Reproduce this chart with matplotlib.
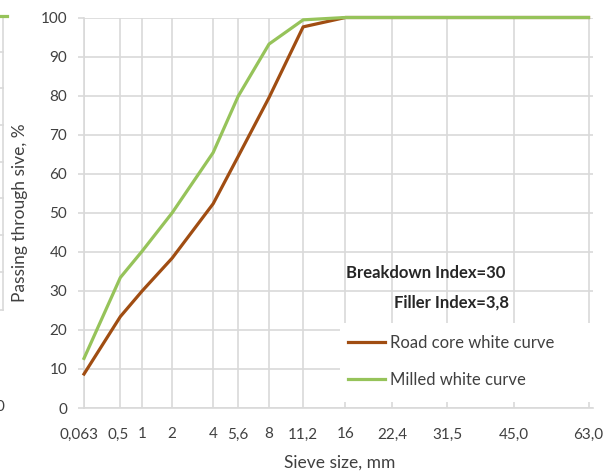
import matplotlib
matplotlib.use("Agg")
import matplotlib.pyplot as plt
from matplotlib.patches import Rectangle
from matplotlib.lines import Line2D
from matplotlib.transforms import ScaledTranslation
import numpy as np

# ---- data ----
sieve_sizes = [0.063, 0.5, 1, 2, 4, 5.6, 8, 11.2, 16, 22.4, 31.5, 45.0, 63.0]
tick_labels = ["0,063", "0,5", "1", "2", "4", "5,6", "8", "11,2", "16", "22,4", "31,5", "45,0", "63,0"]
road_core = [8.7, 23.4, 30.0, 38.4, 52.3, 64.4, 79.5, 97.6, 100, 100, 100, 100, 100]
milled = [12.7, 33.4, 40.2, 50.0, 65.4, 79.8, 93.2, 99.4, 100, 100, 100, 100, 100]
series_names = ["Road core white curve", "Milled white curve"]
y_ticks = [0, 10, 20, 30, 40, 50, 60, 70, 80, 90, 100]

POWER = 0.45
def tx(v):
    return np.asarray(v, dtype=float) ** POWER

FONT = "Lato"
plt.rcParams["font.family"] = [FONT, "DejaVu Sans"]
TXT = "#404040"
GRID = "#D9D9D9"
BROWN = "#A04D12"
GREEN = "#96C35A"

W, H = 603, 476
fig = plt.figure(figsize=(W / 100, H / 100), dpi=100)

ax_l, ax_r, ax_t, ax_b = 84, 593, 17.5, 408
ax = fig.add_axes([ax_l / W, 1 - ax_b / H, (ax_r - ax_l) / W, (ax_b - ax_t) / H])

u0 = tx(sieve_sizes[0])
u63 = tx(sieve_sizes[-1])
scale = (588.5 - ax_l) / (u63 - u0)
ax.set_xlim(u0, u63 + (ax_r - 588.5) / scale)
ax.set_ylim(0, 100)

ax.set_xticks(tx(sieve_sizes))
ax.set_xticklabels(tick_labels)
ax.set_yticks(y_ticks)
ax.grid(True, color=GRID, linewidth=1.2, zorder=0)
ax.set_axisbelow(True)
for s in ["top", "right"]:
    ax.spines[s].set_visible(False)
ax.spines["left"].set_color(GRID)
ax.spines["left"].set_linewidth(1.2)
ax.spines["bottom"].set_color(GRID)
ax.spines["bottom"].set_linewidth(1.2)
ax.tick_params(axis="x", length=0, pad=14, labelsize=11, labelcolor=TXT)
ax.tick_params(axis="y", length=4, width=1.2, color=GRID, pad=8, labelsize=11, labelcolor=TXT)

# nudge the two crowded first labels slightly left, as in the reference
for lab, dx in zip(ax.get_xticklabels()[:2], [-5, -2]):
    lab.set_transform(lab.get_transform() + ScaledTranslation(dx / 100, 0, fig.dpi_scale_trans))

# white legend background covering gridlines
ax.add_patch(Rectangle(((340 - ax_l) / (ax_r - ax_l), (ax_b - 402) / (ax_b - ax_t)),
                       0.6, (402 - 323) / (ax_b - ax_t), transform=ax.transAxes,
                       facecolor="white", edgecolor="none", zorder=1, clip_on=False))

x = tx(sieve_sizes)
ax.plot(x, road_core, color=BROWN, linewidth=2.3, label=series_names[0], zorder=3,
        solid_joinstyle="round", clip_on=False)
ax.plot(x, milled, color=GREEN, linewidth=2.3, label=series_names[1], zorder=4,
        solid_joinstyle="round", clip_on=False)

leg = ax.legend(loc="center left", bbox_to_anchor=((348 - ax_l) / (ax_r - ax_l), (ax_b - 361.5) / (ax_b - ax_t)),
                frameon=False, fontsize=12, handlelength=2.2, handletextpad=0.3,
                labelspacing=1.25, borderpad=0, borderaxespad=0)
for t in leg.get_texts():
    t.set_color(TXT)

fig.text(346 / W, 1 - 273 / H, "Breakdown Index=30", fontsize=12, fontweight="bold",
         color="#262626", ha="left", va="center")
fig.text(394 / W, 1 - 303 / H, "Filler Index=3,8", fontsize=12, fontweight="bold",
         color="#262626", ha="left", va="center")

fig.text(340 / W, 1 - 463 / H, "Sieve size, mm", fontsize=12.5, color=TXT, ha="center", va="center")
fig.text(20 / W, 1 - 213 / H, "Passing through sive, %", fontsize=12.5, color=TXT,
         ha="center", va="center", rotation=90)

# fragment of neighbouring chart at left edge
fig.add_artist(Line2D([3.5 / W, 3.5 / W], [1 - 16 / H, 1 - 310 / H], color=GRID, linewidth=1.2))
for yy in [52, 88, 125, 162, 198, 235, 272, 310]:
    fig.add_artist(Line2D([0, 3.5 / W], [1 - yy / H, 1 - yy / H], color=GRID, linewidth=1.2))
fig.add_artist(Line2D([0, 7 / W], [1 - 16 / H, 1 - 16 / H], color=GREEN, linewidth=2.3))
fig.text(-4 / W, 1 - 407 / H, "0", fontsize=11, color=TXT, ha="left", va="center")

fig.savefig("out.png", dpi=100)
